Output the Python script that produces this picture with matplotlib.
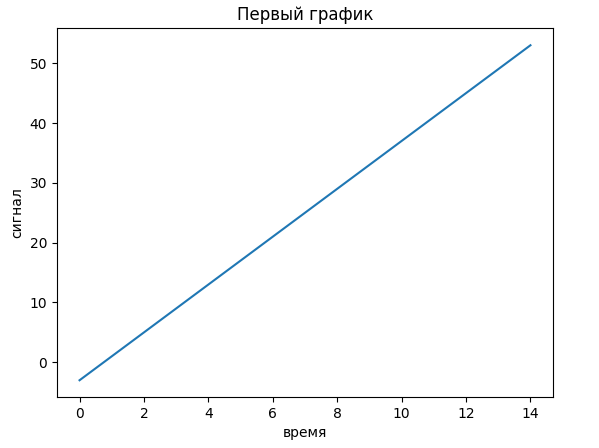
import matplotlib
matplotlib.use("Agg")
import matplotlib.pyplot as plt

x = [0, 1, 2, 3, 4, 5, 6, 7, 8, 9, 10, 11, 12, 13, 14]
y = [-3, 1, 5, 9, 13, 17, 21, 25, 29, 33, 37, 41, 45, 49, 53]

fig = plt.figure(figsize=(5.99, 4.48), dpi=100)
ax = fig.add_axes([57/599, 1 - 397/448, 496/599, 368.5/448])
ax.plot(x, y)
ax.set_title("Первый график")
ax.set_xlabel("время")
ax.set_ylabel("сигнал")
fig.savefig("out.png", dpi=100)
